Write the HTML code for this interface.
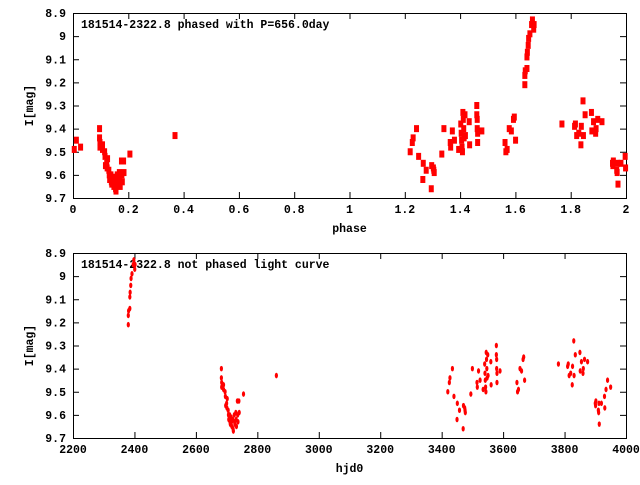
<!DOCTYPE html>
<html><head><meta charset="utf-8"><style>
body{margin:0;background:#fff}
svg text{font-family:"Liberation Mono",monospace;font-weight:bold;font-size:11.5px;fill:#000}
</style></head><body>
<svg id="s" width="640" height="480" xmlns="http://www.w3.org/2000/svg"></svg>
<script>
var s=document.getElementById('s'),h='';
var d=[[2380,9.21],[2380,9.17],[2381,9.15],[2385,9.14],[2385,9.09],[2386,9.07],[2388,9.04],[2389,9.01],[2392,8.99],[2396,8.95],[2398,8.93],[2401,8.97],[2402,8.95],
[2683,9.40],[2683,9.44],[2684,9.46],[2684,9.48],[2690,9.47],[2690,9.49],[2695,9.50],[2696,9.52],[2697,9.56],[2700,9.55],[2701,9.57],[2702,9.53],[2705,9.58],[2706,9.60],[2707,9.62],[2710,9.60],[2711,9.63],[2712,9.64],[2715,9.61],[2716,9.63],[2717,9.65],[2720,9.62],[2721,9.66],[2722,9.67],[2725,9.60],[2726,9.63],[2727,9.64],[2730,9.59],[2731,9.62],[2732,9.65],[2735,9.54],[2736,9.60],[2737,9.63],[2740,9.54],[2741,9.59],[2755,9.51],[2862,9.43],
[3420,9.50],[3425,9.46],[3427,9.44],[3435,9.40],[3440,9.52],[3450,9.62],[3451,9.55],[3458,9.58],[3470,9.66],[3471,9.56],[3475,9.57],[3476,9.58],[3477,9.59],[3495,9.51],[3500,9.40],[3515,9.46],[3516,9.48],[3520,9.41],[3525,9.45],[3535,9.49],[3540,9.38],[3541,9.42],[3542,9.45],[3543,9.48],[3544,9.50],[3545,9.33],[3546,9.36],[3547,9.40],[3548,9.44],[3550,9.34],[3551,9.43],[3560,9.37],[3561,9.47],[3578,9.30],[3578,9.34],[3579,9.36],[3579,9.40],[3580,9.42],[3580,9.46],[3590,9.41],[3645,9.46],[3647,9.50],[3650,9.49],[3655,9.40],[3660,9.41],[3665,9.36],[3667,9.35],[3670,9.45],[3780,9.38],[3810,9.39],[3812,9.38],[3815,9.43],[3820,9.42],[3825,9.47],[3826,9.39],[3830,9.28],[3831,9.43],[3835,9.34],[3850,9.33],[3851,9.41],[3855,9.37],[3860,9.42],[3861,9.40],[3865,9.36],[3875,9.37],[3900,9.55],[3901,9.56],[3902,9.54],[3910,9.58],[3911,9.59],[3912,9.55],[3913,9.64],[3920,9.55],[3930,9.52],[3931,9.57],[3935,9.49],[3940,9.45],[3950,9.48]];
var L=73,R=626;
function panel(top,bot,xmin,xmax,xstep,fmt,title,xl){
 var W=R-L,H=bot-top;
 h+='<rect x="'+L+'.5" y="'+top+'.5" width="'+W+'" height="'+H+'" fill="none" stroke="#000"/>';
 for(var i=0;i<=8;i++){var m=8.9+i*0.1,y=top+i*H/8;
  h+='<path d="M'+L+' '+(y+.5)+'h6M'+R+' '+(y+.5)+'h-6" stroke="#000"/>';
  var lb=(Math.round(m*10)/10).toString();
  h+='<text x="66" y="'+(y+4)+'" text-anchor="end">'+lb+'</text>';}
 for(var v=xmin;v<=xmax+1e-9;v+=xstep){var x=L+(v-xmin)/(xmax-xmin)*W;
  h+='<path d="M'+(x+.5)+' '+bot+'v-6M'+(x+.5)+' '+top+'v6" stroke="#000"/>';
  h+='<text x="'+x+'" y="'+(bot+15)+'" text-anchor="middle">'+fmt(v)+'</text>';}
 h+='<text x="81" y="'+(top+15)+'">'+title+'</text>';
 h+='<text x="'+(L+W/2)+'" y="'+(bot+34)+'" text-anchor="middle">'+xl+'</text>';
 h+='<text transform="translate(33,'+(top+H/2)+') rotate(-90)" text-anchor="middle">I[mag]</text>';
}
panel(13,198,0,2,0.2,function(v){v=Math.round(v*10)/10;return v.toString();},'181514-2322.8 phased with P=656.0day','phase');
panel(253,438,2200,4000,200,function(v){return Math.round(v);},'181514-2322.8 not phased light curve','hjd0');
d.forEach(function(p){
 var ph=((p[0]-2620)/656)%2;if(ph<0)ph+=2;
 var x=L+ph/2*(R-L),y=13+(p[1]-8.9)/0.8*185;
 h+='<rect x="'+(x-2.5)+'" y="'+(y-3.5)+'" width="5" height="7" fill="#f00"/>';
 var x2=L+(p[0]-2200)/1800*(R-L),y2=253+(p[1]-8.9)/0.8*185;
 h+='<ellipse cx="'+x2+'" cy="'+y2+'" rx="1.6" ry="2.8" fill="#f00"/>';
});
s.innerHTML=h;
</script>
</body></html>
